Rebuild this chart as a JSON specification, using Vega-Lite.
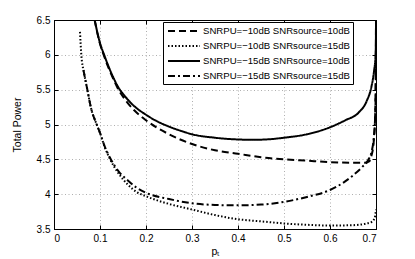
{
  "$schema": "https://vega.github.io/schema/vega-lite/v6.json",
  "width": 322,
  "height": 209,
  "autosize": {"type": "none"},
  "padding": {"left": 54, "top": 20, "right": 39, "bottom": 30},
  "background": "white",
  "config": {
    "font": "Liberation Sans",
    "view": {"stroke": "black", "strokeWidth": 1},
    "axis": {
      "domainColor": "black",
      "tickColor": "black",
      "labelColor": "black",
      "titleColor": "black",
      "labelFontSize": 10,
      "titleFontSize": 10.5,
      "titleFontWeight": "normal",
      "gridDash": [1, 2.5],
      "gridColor": "#9a9a9a",
      "gridWidth": 0.8,
      "tickSize": -4,
      "labelPadding": 8,
      "format": "~g"
    },
    "legend": {
      "labelFont": "Liberation Sans",
      "labelFontSize": 9.6,
      "labelColor": "black",
      "labelLimit": 0
    }
  },
  "data": {
    "values": [
      {"s": "SNRPU=−10dB SNRsource=10dB", "p": 0.0884, "v": 6.5},
      {"s": "SNRPU=−10dB SNRsource=10dB", "p": 0.095, "v": 6.29},
      {"s": "SNRPU=−10dB SNRsource=10dB", "p": 0.1, "v": 6.16},
      {"s": "SNRPU=−10dB SNRsource=10dB", "p": 0.109, "v": 5.98},
      {"s": "SNRPU=−10dB SNRsource=10dB", "p": 0.12, "v": 5.79},
      {"s": "SNRPU=−10dB SNRsource=10dB", "p": 0.13, "v": 5.64},
      {"s": "SNRPU=−10dB SNRsource=10dB", "p": 0.141, "v": 5.49},
      {"s": "SNRPU=−10dB SNRsource=10dB", "p": 0.15, "v": 5.4},
      {"s": "SNRPU=−10dB SNRsource=10dB", "p": 0.16, "v": 5.31},
      {"s": "SNRPU=−10dB SNRsource=10dB", "p": 0.175, "v": 5.2},
      {"s": "SNRPU=−10dB SNRsource=10dB", "p": 0.2, "v": 5.06},
      {"s": "SNRPU=−10dB SNRsource=10dB", "p": 0.25, "v": 4.86},
      {"s": "SNRPU=−10dB SNRsource=10dB", "p": 0.3, "v": 4.72},
      {"s": "SNRPU=−10dB SNRsource=10dB", "p": 0.35, "v": 4.63},
      {"s": "SNRPU=−10dB SNRsource=10dB", "p": 0.4, "v": 4.58},
      {"s": "SNRPU=−10dB SNRsource=10dB", "p": 0.45, "v": 4.53},
      {"s": "SNRPU=−10dB SNRsource=10dB", "p": 0.5, "v": 4.5},
      {"s": "SNRPU=−10dB SNRsource=10dB", "p": 0.55, "v": 4.48},
      {"s": "SNRPU=−10dB SNRsource=10dB", "p": 0.6, "v": 4.46},
      {"s": "SNRPU=−10dB SNRsource=10dB", "p": 0.65, "v": 4.45},
      {"s": "SNRPU=−10dB SNRsource=10dB", "p": 0.675, "v": 4.45},
      {"s": "SNRPU=−10dB SNRsource=10dB", "p": 0.685, "v": 4.47},
      {"s": "SNRPU=−10dB SNRsource=10dB", "p": 0.69, "v": 4.55},
      {"s": "SNRPU=−10dB SNRsource=10dB", "p": 0.695, "v": 4.75},
      {"s": "SNRPU=−10dB SNRsource=10dB", "p": 0.698, "v": 5.1},
      {"s": "SNRPU=−10dB SNRsource=10dB", "p": 0.699, "v": 5.5},
      {"s": "SNRPU=−10dB SNRsource=10dB", "p": 0.6997, "v": 6.0},
      {"s": "SNRPU=−10dB SNRsource=10dB", "p": 0.7, "v": 6.5},

      {"s": "SNRPU=−10dB SNRsource=15dB", "p": 0.0565, "v": 6.33},
      {"s": "SNRPU=−10dB SNRsource=15dB", "p": 0.0594, "v": 6.0},
      {"s": "SNRPU=−10dB SNRsource=15dB", "p": 0.065, "v": 5.75},
      {"s": "SNRPU=−10dB SNRsource=15dB", "p": 0.0725, "v": 5.5},
      {"s": "SNRPU=−10dB SNRsource=15dB", "p": 0.08, "v": 5.25},
      {"s": "SNRPU=−10dB SNRsource=15dB", "p": 0.0928, "v": 5.0},
      {"s": "SNRPU=−10dB SNRsource=15dB", "p": 0.1, "v": 4.88},
      {"s": "SNRPU=−10dB SNRsource=15dB", "p": 0.11, "v": 4.68},
      {"s": "SNRPU=−10dB SNRsource=15dB", "p": 0.122, "v": 4.5},
      {"s": "SNRPU=−10dB SNRsource=15dB", "p": 0.14, "v": 4.3},
      {"s": "SNRPU=−10dB SNRsource=15dB", "p": 0.16, "v": 4.14},
      {"s": "SNRPU=−10dB SNRsource=15dB", "p": 0.18, "v": 4.03},
      {"s": "SNRPU=−10dB SNRsource=15dB", "p": 0.2, "v": 3.97},
      {"s": "SNRPU=−10dB SNRsource=15dB", "p": 0.25, "v": 3.86},
      {"s": "SNRPU=−10dB SNRsource=15dB", "p": 0.3, "v": 3.78},
      {"s": "SNRPU=−10dB SNRsource=15dB", "p": 0.35, "v": 3.7},
      {"s": "SNRPU=−10dB SNRsource=15dB", "p": 0.4, "v": 3.64},
      {"s": "SNRPU=−10dB SNRsource=15dB", "p": 0.45, "v": 3.61},
      {"s": "SNRPU=−10dB SNRsource=15dB", "p": 0.5, "v": 3.58},
      {"s": "SNRPU=−10dB SNRsource=15dB", "p": 0.55, "v": 3.56},
      {"s": "SNRPU=−10dB SNRsource=15dB", "p": 0.6, "v": 3.55},
      {"s": "SNRPU=−10dB SNRsource=15dB", "p": 0.65, "v": 3.555},
      {"s": "SNRPU=−10dB SNRsource=15dB", "p": 0.68, "v": 3.58},
      {"s": "SNRPU=−10dB SNRsource=15dB", "p": 0.69, "v": 3.6},
      {"s": "SNRPU=−10dB SNRsource=15dB", "p": 0.695, "v": 3.63},
      {"s": "SNRPU=−10dB SNRsource=15dB", "p": 0.698, "v": 3.68},
      {"s": "SNRPU=−10dB SNRsource=15dB", "p": 0.7, "v": 3.78},

      {"s": "SNRPU=−15dB SNRsource=10dB", "p": 0.0884, "v": 6.5},
      {"s": "SNRPU=−15dB SNRsource=10dB", "p": 0.095, "v": 6.3},
      {"s": "SNRPU=−15dB SNRsource=10dB", "p": 0.1, "v": 6.17},
      {"s": "SNRPU=−15dB SNRsource=10dB", "p": 0.109, "v": 6.0},
      {"s": "SNRPU=−15dB SNRsource=10dB", "p": 0.12, "v": 5.81},
      {"s": "SNRPU=−15dB SNRsource=10dB", "p": 0.13, "v": 5.66},
      {"s": "SNRPU=−15dB SNRsource=10dB", "p": 0.141, "v": 5.52},
      {"s": "SNRPU=−15dB SNRsource=10dB", "p": 0.15, "v": 5.44},
      {"s": "SNRPU=−15dB SNRsource=10dB", "p": 0.16, "v": 5.36},
      {"s": "SNRPU=−15dB SNRsource=10dB", "p": 0.175, "v": 5.26},
      {"s": "SNRPU=−15dB SNRsource=10dB", "p": 0.2, "v": 5.14},
      {"s": "SNRPU=−15dB SNRsource=10dB", "p": 0.22, "v": 5.06},
      {"s": "SNRPU=−15dB SNRsource=10dB", "p": 0.25, "v": 4.97},
      {"s": "SNRPU=−15dB SNRsource=10dB", "p": 0.28, "v": 4.9},
      {"s": "SNRPU=−15dB SNRsource=10dB", "p": 0.3, "v": 4.86},
      {"s": "SNRPU=−15dB SNRsource=10dB", "p": 0.35, "v": 4.81},
      {"s": "SNRPU=−15dB SNRsource=10dB", "p": 0.4, "v": 4.785},
      {"s": "SNRPU=−15dB SNRsource=10dB", "p": 0.43, "v": 4.78},
      {"s": "SNRPU=−15dB SNRsource=10dB", "p": 0.46, "v": 4.785},
      {"s": "SNRPU=−15dB SNRsource=10dB", "p": 0.5, "v": 4.81},
      {"s": "SNRPU=−15dB SNRsource=10dB", "p": 0.55, "v": 4.86},
      {"s": "SNRPU=−15dB SNRsource=10dB", "p": 0.6, "v": 4.96},
      {"s": "SNRPU=−15dB SNRsource=10dB", "p": 0.633, "v": 5.06},
      {"s": "SNRPU=−15dB SNRsource=10dB", "p": 0.662, "v": 5.17},
      {"s": "SNRPU=−15dB SNRsource=10dB", "p": 0.68, "v": 5.34},
      {"s": "SNRPU=−15dB SNRsource=10dB", "p": 0.69, "v": 5.54},
      {"s": "SNRPU=−15dB SNRsource=10dB", "p": 0.696, "v": 5.78},
      {"s": "SNRPU=−15dB SNRsource=10dB", "p": 0.699, "v": 5.98},
      {"s": "SNRPU=−15dB SNRsource=10dB", "p": 0.6998, "v": 6.2},
      {"s": "SNRPU=−15dB SNRsource=10dB", "p": 0.7, "v": 6.5},

      {"s": "SNRPU=−15dB SNRsource=15dB", "p": 0.064, "v": 5.78},
      {"s": "SNRPU=−15dB SNRsource=15dB", "p": 0.0725, "v": 5.5},
      {"s": "SNRPU=−15dB SNRsource=15dB", "p": 0.08, "v": 5.25},
      {"s": "SNRPU=−15dB SNRsource=15dB", "p": 0.0928, "v": 5.0},
      {"s": "SNRPU=−15dB SNRsource=15dB", "p": 0.1, "v": 4.88},
      {"s": "SNRPU=−15dB SNRsource=15dB", "p": 0.11, "v": 4.69},
      {"s": "SNRPU=−15dB SNRsource=15dB", "p": 0.122, "v": 4.52},
      {"s": "SNRPU=−15dB SNRsource=15dB", "p": 0.14, "v": 4.33},
      {"s": "SNRPU=−15dB SNRsource=15dB", "p": 0.16, "v": 4.2},
      {"s": "SNRPU=−15dB SNRsource=15dB", "p": 0.18, "v": 4.09},
      {"s": "SNRPU=−15dB SNRsource=15dB", "p": 0.2, "v": 4.02},
      {"s": "SNRPU=−15dB SNRsource=15dB", "p": 0.25, "v": 3.93},
      {"s": "SNRPU=−15dB SNRsource=15dB", "p": 0.3, "v": 3.87},
      {"s": "SNRPU=−15dB SNRsource=15dB", "p": 0.35, "v": 3.845},
      {"s": "SNRPU=−15dB SNRsource=15dB", "p": 0.4, "v": 3.84},
      {"s": "SNRPU=−15dB SNRsource=15dB", "p": 0.45, "v": 3.85},
      {"s": "SNRPU=−15dB SNRsource=15dB", "p": 0.5, "v": 3.89},
      {"s": "SNRPU=−15dB SNRsource=15dB", "p": 0.55, "v": 3.96},
      {"s": "SNRPU=−15dB SNRsource=15dB", "p": 0.6, "v": 4.06},
      {"s": "SNRPU=−15dB SNRsource=15dB", "p": 0.63, "v": 4.17},
      {"s": "SNRPU=−15dB SNRsource=15dB", "p": 0.65, "v": 4.27},
      {"s": "SNRPU=−15dB SNRsource=15dB", "p": 0.67, "v": 4.39},
      {"s": "SNRPU=−15dB SNRsource=15dB", "p": 0.683, "v": 4.49},
      {"s": "SNRPU=−15dB SNRsource=15dB", "p": 0.69, "v": 4.6},
      {"s": "SNRPU=−15dB SNRsource=15dB", "p": 0.695, "v": 4.8},
      {"s": "SNRPU=−15dB SNRsource=15dB", "p": 0.698, "v": 5.1},
      {"s": "SNRPU=−15dB SNRsource=15dB", "p": 0.6995, "v": 5.5},
      {"s": "SNRPU=−15dB SNRsource=15dB", "p": 0.7, "v": 5.9}
    ]
  },
  "layer": [
    {
      "mark": {"type": "line", "interpolate": "monotone", "color": "black", "strokeWidth": 2, "strokeCap": "butt", "clip": true},
      "encoding": {
        "x": {
          "field": "p", "type": "quantitative",
          "scale": {"domain": [0, 0.7], "nice": false},
          "axis": {"values": [0, 0.1, 0.2, 0.3, 0.4, 0.5, 0.6, 0.7], "title": "pₜ", "grid": true, "titlePadding": 3, "domain": true}
        },
        "y": {
          "field": "v", "type": "quantitative",
          "scale": {"domain": [3.5, 6.5], "nice": false, "zero": false},
          "axis": {"values": [3.5, 4, 4.5, 5, 5.5, 6, 6.5], "title": "Total Power", "grid": true, "titlePadding": 14}
        },
        "strokeDash": {
          "field": "s", "type": "nominal",
          "scale": {
            "domain": ["SNRPU=−10dB SNRsource=10dB", "SNRPU=−10dB SNRsource=15dB", "SNRPU=−15dB SNRsource=10dB", "SNRPU=−15dB SNRsource=15dB"],
            "range": [[7, 4], [1.5, 2], [1, 0], [7, 3, 2, 3]]
          },
          "legend": {
            "title": null,
            "orient": "none",
            "legendX": 109,
            "legendY": 2,
            "strokeColor": "black",
            "fillColor": "white",
            "padding": 3,
            "symbolType": "M-0.8,0H5.6",
            "symbolSize": 100,
            "symbolOffset": 0,
            "symbolStrokeWidth": 2,
            "symbolStrokeColor": "black",
            "rowPadding": 4,
            "labelOffset": 25
          }
        }
      }
    },
    {
      "mark": {"type": "point", "opacity": 0},
      "encoding": {
        "x": {
          "field": "p", "type": "quantitative",
          "axis": {"orient": "top", "values": [0, 0.1, 0.2, 0.3, 0.4, 0.5, 0.6, 0.7], "labels": false, "title": null, "grid": false}
        },
        "y": {
          "field": "v", "type": "quantitative",
          "axis": {"orient": "right", "values": [3.5, 4, 4.5, 5, 5.5, 6, 6.5], "labels": false, "title": null, "grid": false}
        }
      }
    }
  ],
  "resolve": {"axis": {"x": "independent", "y": "independent"}}
}
